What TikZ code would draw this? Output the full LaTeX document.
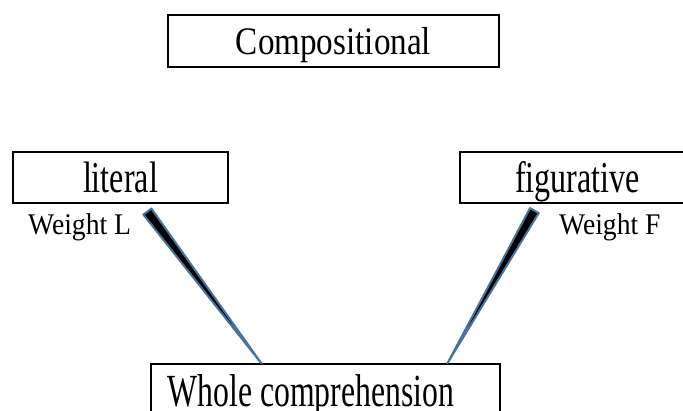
\documentclass[tikz,border=0pt]{standalone}
\usepackage{fontspec}
\setmainfont{Liberation Serif}
\newfontfamily\serifA[FakeStretch=0.85]{Liberation Serif}
\newfontfamily\serifB[FakeStretch=0.73]{Liberation Serif}
\newfontfamily\serifC[FakeStretch=0.69]{Liberation Serif}
\newfontfamily\serifD[FakeStretch=0.92]{Liberation Serif}
\usetikzlibrary{calc}
\definecolor{edgeblue}{RGB}{70,115,160}

\begin{document}
\begin{tikzpicture}[x=1pt,y=-1pt]
   \tikzstyle{every node}=[inner sep=0pt, text depth=0pt]
   \tikzstyle{box}=[draw, line width=1.2pt]
   \tikzstyle{weight}=[anchor=base west, font=\serifD\fontsize{30}{30}\selectfont]
   \tikzstyle{wedge}=[fill=black, draw=edgeblue, line width=2pt, line join=round]
   \useasboundingbox (0,0) rectangle (683,410);

\node[box, minimum width=331pt, minimum height=52pt, text height=26pt,
      font=\serifA\fontsize{39}{39}\selectfont] (comp) at (333.5,41) {Compositional};
\node[box, minimum width=215pt, minimum height=51pt, text height=30pt,
      font=\serifB\fontsize{44}{44}\selectfont] (literal) at (120.5,177.5) {literal};
\node[box, minimum width=235pt, minimum height=51pt, text height=30pt,
      font=\serifB\fontsize{44}{44}\selectfont] (figurative) at (577.5,177.5) {figurative};
\node[box, minimum width=349pt, minimum height=60pt, text height=24pt,
      font=\serifC\fontsize{46}{46}\selectfont] (whole) at (325.5,394) {Whole comprehension\hspace*{29pt}};

\node[weight] (weightL) at (28,234) {Weight L};
\node[weight] (weightF) at (559,234) {Weight F};

% tapering links
\coordinate (litTop) at ($(literal.south west)+(135,8)$);
\coordinate (litEnd) at ($(whole.north west)+(111,0)$);
\coordinate (figTop) at ($(figurative.south west)+(75,7)$);
\coordinate (figEnd) at ($(whole.north west)+(297,0)$);
\path[wedge] ($(litTop)!5pt!90:(litEnd)$) -- ($(litTop)!5pt!-90:(litEnd)$) -- (litEnd) -- cycle;
\path[wedge] ($(figTop)!5pt!90:(figEnd)$) -- ($(figTop)!5pt!-90:(figEnd)$) -- (figEnd) -- cycle;

\end{tikzpicture}
\end{document}
